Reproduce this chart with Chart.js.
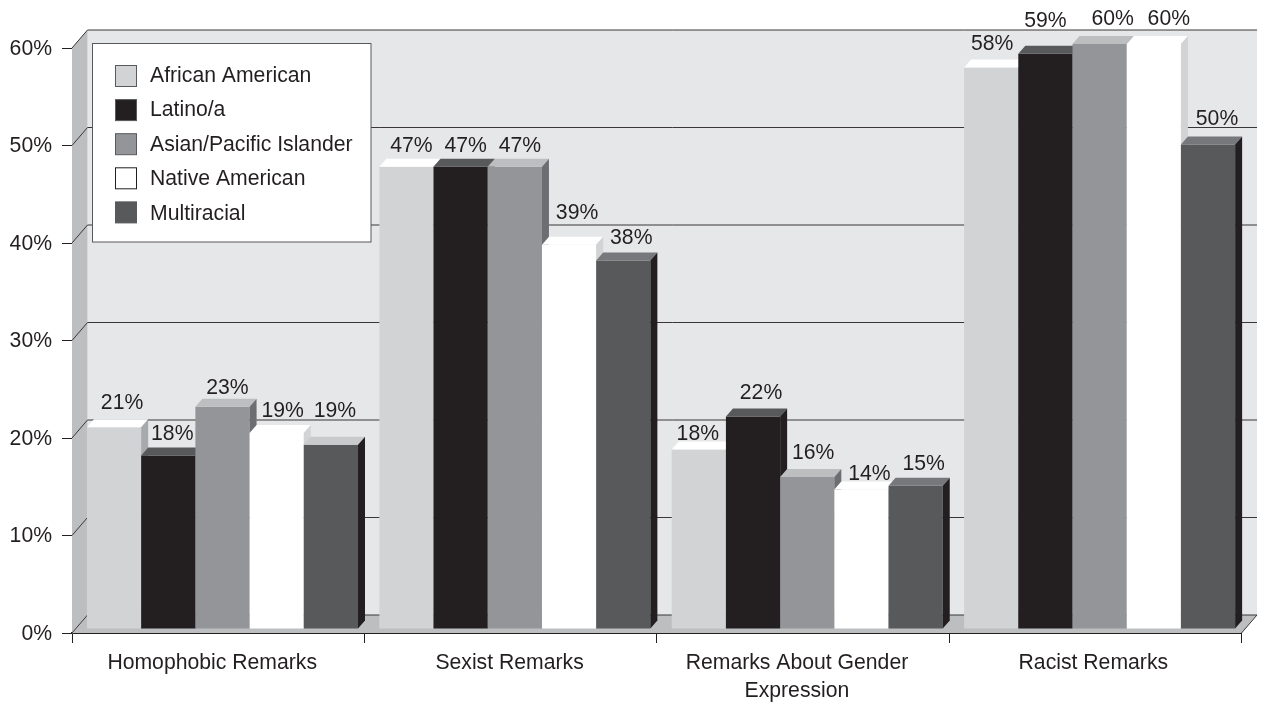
<!DOCTYPE html>
<html>
<head>
<meta charset="utf-8">
<title>Remarks</title>
<script src="https://cdn.jsdelivr.net/npm/chart.js@4/dist/chart.umd.min.js"></script>
<style>
body { margin: 0; background: #fff; }
canvas { display: block; }
</style>
</head>
<body>
<canvas id="remarks" width="1262" height="706"></canvas>
<script>
const categories = ['Homophobic Remarks', 'Sexist Remarks', ['Remarks About Gender', 'Expression'], 'Racist Remarks'];
const seriesNames = ['African American', 'Latino/a', 'Asian/Pacific Islander', 'Native American', 'Multiracial'];
const africanAmerican = [20.7, 47.4, 18.4, 57.6];
const latino = [17.8, 47.4, 21.8, 59];
const asianPacific = [22.8, 47.4, 15.6, 60];
const nativeAmerican = [20.1, 39.4, 14.3, 60];
const multiracial = [18.9, 37.8, 14.7, 49.7];
const printedLabels = [
    ['21%', '47%', '18%', '58%'],
    ['18%', '47%', '22%', '59%'],
    ['23%', '47%', '16%', '60%'],
    ['19%', '39%', '14%', '60%'],
    ['19%', '38%', '15%', '50%']
];
const yTicks = [0, 10, 20, 30, 40, 50, 60];

const ink = '#231f20';
const fontFamily = '"Liberation Sans", Arial, sans-serif';
const fontSize = 21.2;
const frontColors = ['#d1d3d4', '#231f20', '#939598', '#ffffff', '#58595b'];
const topColors = ['#ffffff', '#58595b', '#bcbec0', '#ffffff', '#77787b'];
const sideColors = ['#a7a9ac', '#231f20', '#6d6e71', '#d1d3d4', '#231f20'];
const multiracialFirstTop = '#c8cacc';

// depth of the room, depth of a bar, and how far the bars sit behind the front edge
const room = { dx: 15.5, dy: 18 };
const bar = { dx: 7, dy: 8 };
const inset = { dx: 4.3, dy: 4 };

// hand nudges, the original labels were placed by hand too
const labelShiftX = [
    [3, 0, -6, -4],
    [-1, 0, 3, -5],
    [0, 0, 1, 8],
    [1, 3, 3, 10],
    [-1, 3, 3, 4]
];
const labelShiftY = [
    [-4, -1, 5, -3],
    [-1, -1, -3, -13],
    [1, -1, -4, -5],
    [-2, -12, 5, -5],
    [-14, -2, -2, -5]
];
const xLabelShift = [-6, -1, -6, -2];

function poly(ctx, pts, fill) {
    ctx.beginPath();
    pts.forEach((p, i) => i ? ctx.lineTo(p[0], p[1]) : ctx.moveTo(p[0], p[1]));
    ctx.closePath();
    ctx.fillStyle = fill;
    ctx.fill();
}

function line(ctx, x1, y1, x2, y2, color, width) {
    ctx.beginPath();
    ctx.moveTo(x1, y1);
    ctx.lineTo(x2, y2);
    ctx.strokeStyle = color;
    ctx.lineWidth = width;
    ctx.stroke();
}

const room3d = {
    id: 'room3d',
    beforeDraw(chart) {
        chart.scales.x.getLabelItems().forEach((item, i) => {
            item.options.translation[0] += xLabelShift[i];
        });
        chart.scales.y.getLabelItems().forEach(item => {
            item.options.translation[1] += 1;
        });
    },
    beforeDatasetsDraw(chart) {
        const { ctx, chartArea: a, scales: { y } } = chart;
        const { dx, dy } = room;
        ctx.save();
        poly(ctx, [[a.left + dx, a.top - dy], [a.right + dx, a.top - dy], [a.right + dx, a.bottom - dy], [a.left + dx, a.bottom - dy]], '#e6e7e8');
        poly(ctx, [[a.left, a.top], [a.left + dx, a.top - dy], [a.left + dx, a.bottom - dy], [a.left, a.bottom]], '#bcbec0');
        poly(ctx, [[a.left, a.bottom], [a.left + dx, a.bottom - dy], [a.right + dx, a.bottom - dy], [a.right, a.bottom]], '#bcbec0');
        yTicks.forEach(v => {
            const py = y.getPixelForValue(v);
            line(ctx, a.left, py, a.left + dx, py - dy, '#3a3637', 1);
            line(ctx, a.left + dx, py - dy, a.right + dx, py - dy, '#3a3637', 1);
        });
        line(ctx, a.right, a.bottom, a.right + dx, a.bottom - dy, '#3a3637', 1);

        // legend box
        ctx.fillStyle = '#fff';
        ctx.fillRect(92.5, 43.5, 278.5, 198.5);
        ctx.strokeStyle = '#58595b';
        ctx.lineWidth = 1;
        ctx.strokeRect(92.5, 43.5, 278.5, 198.5);
        ctx.font = fontSize + 'px ' + fontFamily;
        ctx.textBaseline = 'middle';
        chart.data.datasets.forEach((ds, i) => {
            const top = 65 + i * 34.1;
            ctx.fillStyle = ds.backgroundColor;
            ctx.fillRect(115.5, top + 0.5, 21, 21);
            ctx.strokeStyle = i === 3 ? ink : '#58595b';
            ctx.strokeRect(115.5, top + 0.5, 21, 21);
            ctx.fillStyle = ink;
            ctx.fillText(ds.label, 150, 76 + i * 34.5);
        });
        ctx.restore();
    },
    // the library draws the last dataset first, here the bars must go left to right
    beforeDatasetDraw() {
        return false;
    },
    afterDatasetsDraw(chart) {
        const ctx = chart.ctx;
        const metas = chart.getSortedVisibleDatasetMetas();
        metas.forEach(meta => {
            ctx.save();
            ctx.translate(inset.dx, -inset.dy);
            meta.controller.draw();
            meta.data.forEach((el, c) => {
                const { x, y, base, width } = el.getProps(['x', 'y', 'base', 'width'], true);
                const l = x - width / 2;
                const r = x + width / 2;
                const topColor = meta.index === 4 && c === 0 ? multiracialFirstTop : topColors[meta.index];
                poly(ctx, [[l, y], [l + bar.dx, y - bar.dy], [r + bar.dx, y - bar.dy], [r, y]], topColor);
                poly(ctx, [[r, y], [r + bar.dx, y - bar.dy], [r + bar.dx, base - bar.dy], [r, base]], sideColors[meta.index]);
            });
            ctx.restore();
        });

        ctx.save();
        ctx.font = fontSize + 'px ' + fontFamily;
        ctx.fillStyle = ink;
        ctx.textAlign = 'center';
        ctx.textBaseline = 'middle';
        metas.forEach(meta => {
            meta.data.forEach((el, c) => {
                const { x, y } = el.getProps(['x', 'y'], true);
                const s = meta.index;
                ctx.fillText(printedLabels[s][c], x + inset.dx + 5 + labelShiftX[s][c], y - inset.dy - 20 + labelShiftY[s][c]);
            });
        });
        ctx.restore();
    }
};

const seriesValues = [africanAmerican, latino, asianPacific, nativeAmerican, multiracial];

new Chart(document.getElementById('remarks'), {
    type: 'bar',
    plugins: [room3d],
    data: {
        labels: categories,
        datasets: seriesNames.map((name, i) => ({
            label: name,
            data: seriesValues[i],
            backgroundColor: frontColors[i],
            borderWidth: 0,
            clip: false,
            barPercentage: 1,
            categoryPercentage: 0.927
        }))
    },
    options: {
        responsive: false,
        animation: false,
        layout: { padding: { top: 48, right: 20.5, left: 0, bottom: 0 } },
        plugins: { legend: { display: false }, tooltip: { enabled: false } },
        scales: {
            x: {
                afterFit(s) { s.height = 73; },
                grid: { drawOnChartArea: false, color: ink, tickLength: 10 },
                border: { color: ink, width: 2 },
                ticks: { color: ink, font: { family: fontFamily, size: fontSize, lineHeight: 1.33 }, maxRotation: 0, padding: 6 }
            },
            y: {
                min: 0,
                max: 60,
                afterFit(s) { s.width = 72; },
                grid: { drawOnChartArea: false, color: ink, tickLength: 10 },
                border: { color: '#58595b', width: 1 },
                ticks: { stepSize: 10, color: ink, font: { family: fontFamily, size: fontSize }, padding: 10, callback: v => v + '%' }
            }
        }
    }
});
</script>
</body>
</html>
